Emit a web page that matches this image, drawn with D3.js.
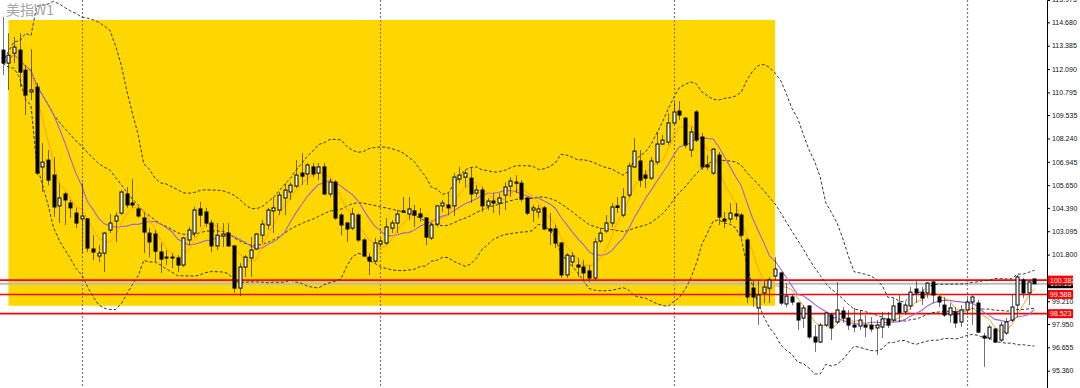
<!DOCTYPE html>
<html>
<head>
<meta charset="utf-8">
<script src="https://cdn.jsdelivr.net/npm/d3@7"></script>
<style>
  body { margin: 0; background: #fff; overflow: hidden; }
  svg { display: block; font-family: "Liberation Sans", Arial, sans-serif; }
</style>
</head>
<body>
<svg id="chart"></svg>
<script>
// weekly bars (oldest first)
const opens = [
  113.14,112.42,112.97,113.14,112.03,110.82,111.09,106.66,107.04,106.21,
  104.50,105.16,104.66,104.10,103.78,103.78,102.11,101.72,101.88,103.16,
  103.66,104.10,105.16,104.66,104.33,103.83,102.99,102.94,101.94,101.61,
  101.66,101.61,101.22,102.61,102.99,104.33,104.16,103.55,102.28,102.83,
  102.99,102.28,99.94,101.11,101.61,102.11,102.88,103.44,104.22,104.27,
  104.94,105.27,105.60,106.32,106.27,106.66,106.32,106.66,105.16,105.82,
  103.99,103.55,103.27,103.99,102.61,101.66,101.44,102.39,102.44,103.27,
  103.55,104.22,104.05,104.22,104.05,103.83,102.72,103.49,104.50,104.55,
  104.50,105.99,106.10,106.04,105.21,105.38,104.50,104.77,104.66,105.10,
  105.60,105.76,105.76,104.94,104.27,104.16,104.39,103.22,103.22,102.44,
  100.67,101.39,101.22,101.11,100.89,100.50,102.55,103.11,103.55,104.50,
  103.99,105.10,106.66,106.99,106.21,106.04,106.93,107.93,108.04,109.10,
  109.76,109.37,107.60,109.71,108.32,106.77,106.32,107.32,103.77,103.77,
  104.05,103.99,102.61,99.94,98.84,99.67,99.94,100.61,100.78,99.06,
  99.45,99.11,98.28,98.95,97.23,96.95,97.89,98.45,98.06,98.67,
  98.28,97.89,97.84,97.89,97.89,97.73,97.78,98.23,98.17,99.11,
  98.62,98.95,99.89,99.72,99.67,100.28,99.45,99.00,98.45,98.62,
  98.06,98.73,99.17,99.11,97.28,97.17,97.67,97.06,97.45,98.17,
  99.00,100.39,99.67,100.45
];
const highs = [
  114.98,114.08,113.87,114.08,112.31,113.20,111.31,107.98,107.60,107.21,
  105.76,105.27,104.83,104.39,105.76,103.83,102.88,102.33,103.05,104.05,
  104.16,105.38,105.55,105.99,104.44,104.10,103.27,103.16,102.44,102.05,
  101.88,101.77,102.77,103.33,104.44,104.72,104.39,103.72,103.55,103.55,
  103.55,102.33,101.33,101.77,102.77,102.99,103.72,104.39,104.99,105.27,
  105.76,105.82,107.04,107.43,106.88,106.88,106.88,106.88,106.04,105.93,
  104.10,103.61,104.39,104.10,102.72,101.88,102.72,102.72,103.83,103.72,
  104.27,104.99,104.99,104.55,104.39,103.88,103.55,104.55,104.83,105.21,
  106.32,106.66,106.49,106.60,105.65,105.55,104.94,105.21,105.21,105.82,
  106.10,106.21,105.93,104.99,104.55,104.55,104.50,104.10,103.44,102.50,
  101.88,101.94,101.61,101.50,101.22,102.72,103.27,103.99,104.66,104.99,
  105.49,106.88,108.26,107.60,106.49,107.21,108.60,108.43,109.65,110.26,
  110.32,109.43,108.88,109.82,108.54,107.32,107.71,107.49,104.16,104.66,
  104.66,104.10,102.72,100.39,100.39,100.39,100.55,101.66,100.83,100.22,
  99.56,99.17,99.00,99.00,97.89,98.01,98.62,98.56,100.28,98.89,
  98.73,98.84,98.73,98.45,98.34,98.17,98.62,98.62,99.39,99.56,
  99.17,100.00,100.39,100.00,100.28,100.39,99.56,99.45,99.11,98.89,
  99.00,99.39,99.56,99.28,97.45,97.89,97.73,98.06,98.28,99.56,
  100.67,100.50,100.39,100.45
];
const lows = [
  111.75,110.93,112.42,111.09,109.54,110.37,106.21,105.27,105.65,103.89,
  103.55,103.44,103.83,103.27,101.88,101.94,101.50,101.39,100.83,102.99,
  102.50,103.99,104.39,104.39,103.83,101.88,101.66,101.39,100.78,101.22,
  101.05,100.83,101.11,102.33,102.77,103.33,103.33,101.94,102.05,102.22,
  102.22,99.67,99.50,100.56,100.56,102.05,102.44,103.16,102.99,103.99,
  103.99,104.83,105.49,105.65,105.65,106.10,105.93,105.10,104.99,103.72,
  102.88,102.50,103.16,102.50,101.66,100.67,101.33,102.22,102.33,102.99,
  102.99,104.10,103.72,103.33,103.61,102.33,102.61,103.33,104.16,103.99,
  103.94,105.76,105.55,104.66,104.99,104.16,104.27,104.10,103.99,104.27,
  104.99,105.21,104.72,103.99,103.61,103.83,103.16,102.33,102.16,100.50,
  100.50,101.11,100.56,100.39,100.28,100.39,102.44,102.99,103.33,104.10,
  103.88,104.94,106.60,105.55,105.49,105.93,106.77,107.88,107.88,108.99,
  109.26,107.71,107.21,108.04,106.49,106.49,106.21,103.44,103.27,103.55,
  103.72,102.72,99.11,98.89,97.89,99.11,99.11,100.39,99.00,98.89,
  99.00,97.62,97.73,97.12,96.40,96.89,97.78,97.06,97.95,98.01,
  97.62,97.50,97.62,97.23,97.50,96.23,97.17,97.73,98.06,98.06,
  98.45,98.73,99.11,99.00,99.39,99.11,98.89,98.34,98.01,97.73,
  97.78,98.45,97.89,97.45,95.57,97.06,96.89,96.95,97.34,98.06,
  98.34,99.39,99.00,100.17
];
const closes = [
  112.42,112.86,113.31,111.92,110.65,110.93,106.32,106.93,105.93,104.44,
  104.94,104.83,104.39,103.55,103.94,102.16,101.94,101.88,102.99,103.55,
  103.94,105.27,104.55,104.55,103.94,103.05,102.50,101.99,101.55,101.66,
  101.61,101.22,102.72,103.16,104.27,103.99,103.55,102.28,102.88,102.94,
  102.28,99.94,101.11,101.66,102.05,102.94,103.49,104.27,104.39,105.10,
  105.38,105.65,106.21,106.15,106.77,106.27,106.66,105.16,105.82,103.83,
  103.44,103.22,104.05,102.61,101.72,101.44,102.44,102.55,103.33,103.55,
  104.05,104.16,104.33,103.99,103.88,102.77,103.44,104.50,104.66,104.39,
  106.10,106.21,106.32,105.16,105.38,104.50,104.77,104.66,104.94,105.55,
  105.88,105.82,104.88,104.10,104.39,104.33,103.22,103.11,102.44,100.67,
  101.77,101.72,101.11,100.78,100.50,102.50,102.99,103.55,104.44,104.41,
  104.99,106.71,107.54,105.93,106.04,106.99,107.93,108.15,109.10,109.71,
  109.54,107.88,108.60,108.15,106.66,106.66,107.65,103.88,103.66,104.10,
  103.94,102.88,99.45,99.45,99.56,100.00,100.39,101.00,99.11,99.50,
  99.17,98.17,98.84,97.23,96.95,97.89,98.56,97.73,98.73,98.28,
  97.89,97.78,98.17,97.78,97.67,97.89,98.23,97.89,98.95,98.56,
  99.00,99.72,99.67,99.39,100.22,99.56,99.17,98.45,98.84,98.01,
  98.73,99.17,99.45,97.50,97.17,97.78,96.95,97.89,98.06,98.89,
  100.56,99.67,100.28,100.18
];

// 100.505 is hidden under the price tags in the picture, so it is left out
const axisLabels = ['115.975','114.680','113.385','112.090','110.795','109.535','108.240','106.945',
  '105.650','104.390','103.095','101.800','99.210','97.950','96.655','95.360'];
const levels = [100.382, 99.588, 98.523];   // red horizontal lines
const lastPrice = 100.184;
const yearStarts = [14, 67, 119, 171];       // bar index of period separators
const zoneBars = [1, 137];                    // yellow box, first / last bar
const zonePrices = [114.81, 98.96];           // yellow box, top / bottom
const title = '美指W1';

class CandleChart {

  constructor(_config) {
    this.config = {
      parentElement: _config.parentElement,
      containerWidth: _config.containerWidth || 1080,
      containerHeight: _config.containerHeight || 388,
      axisX: 1047
    }
    this.n = Math.min(opens.length, highs.length, lows.length, closes.length);
    this.initVis();
  }

  initVis() {
    let vis = this;

    vis.xScale = d3.scaleLinear()
      .domain([0, 183])
      .range([2.8, 1034.4]);

    vis.yScale = d3.scaleLinear()
      .domain([94.40, 115.92])
      .range([vis.config.containerHeight, 0]);

    vis.svg = d3.select(vis.config.parentElement)
      .attr('width', vis.config.containerWidth)
      .attr('height', vis.config.containerHeight);

    vis.svg.append('defs').append('clipPath').attr('id', 'plot-clip')
      .append('rect')
      .attr('x', 0).attr('y', 0)
      .attr('width', vis.config.axisX)
      .attr('height', vis.config.containerHeight);

    vis.plot = vis.svg.append('g').attr('clip-path', 'url(#plot-clip)');
    vis.yAxisG = vis.svg.append('g')
      .attr('class', 'axis y-axis')
      .attr('transform', `translate(${vis.config.axisX},0)`);
    vis.tags = vis.svg.append('g');

    vis.updateVis();
  }

  updateVis() {
    let vis = this;
    let c = closes.slice(0, vis.n);

    // moving averages / bollinger (20, 2)
    const sma = (arr, p) => arr.map((_, i) => d3.mean(arr.slice(Math.max(0, i - p + 1), i + 1)));
    vis.ma5 = sma(c, 5);
    vis.ma10 = sma(c, 10);
    vis.mid = sma(c, 20);
    vis.upper = [];
    vis.lower = [];
    c.forEach((_, i) => {
      let win = c.slice(Math.max(0, i - 19), i + 1);
      let m = vis.mid[i];
      let sd = Math.sqrt(d3.mean(win, v => (v - m) * (v - m)));
      vis.upper.push(m + 2 * sd);
      vis.lower.push(m - 2 * sd);
    });

    vis.line = d3.line()
      .x((d, i) => vis.xScale(i))
      .y(d => vis.yScale(d));

    vis.renderVis();
  }

  renderVis() {
    let vis = this;
    let W = vis.config.axisX;
    let bars = d3.range(vis.n);

    // yellow box
    vis.plot.append('rect')
      .attr('x', vis.xScale(zoneBars[0]))
      .attr('y', vis.yScale(zonePrices[0]))
      .attr('width', vis.xScale(zoneBars[1]) - vis.xScale(zoneBars[0]))
      .attr('height', vis.yScale(zonePrices[1]) - vis.yScale(zonePrices[0]))
      .attr('fill', '#ffd700');

    // period separators
    vis.plot.selectAll('.sep')
      .data(yearStarts)
      .join('line')
      .attr('class', 'sep')
      .attr('x1', d => Math.round(vis.xScale(d)) + 0.5)
      .attr('x2', d => Math.round(vis.xScale(d)) + 0.5)
      .attr('y1', 0)
      .attr('y2', vis.config.containerHeight)
      .attr('stroke', '#777')
      .attr('stroke-width', 1.2)
      .attr('stroke-dasharray', '2,2');

    // price lines
    vis.plot.append('line')
      .attr('x1', 0).attr('x2', W)
      .attr('y1', vis.yScale(lastPrice)).attr('y2', vis.yScale(lastPrice))
      .attr('stroke', '#b8bcc0')
      .attr('stroke-width', 2);

    vis.plot.selectAll('.level')
      .data(levels)
      .join('line')
      .attr('class', 'level')
      .attr('x1', 0).attr('x2', W)
      .attr('y1', d => vis.yScale(d)).attr('y2', d => vis.yScale(d))
      .attr('stroke', '#ff0000')
      .attr('stroke-width', 1.6);

    // bollinger bands
    [vis.upper, vis.mid, vis.lower].forEach(band => {
      vis.plot.append('path')
        .datum(band)
        .attr('fill', 'none')
        .attr('stroke', '#222')
        .attr('stroke-width', 0.9)
        .attr('stroke-dasharray', '3,2')
        .attr('d', vis.line);
    });

    // moving averages
    vis.plot.append('path')
      .datum(vis.ma10)
      .attr('fill', 'none')
      .attr('stroke', '#a066d8')
      .attr('stroke-width', 1.1)
      .attr('d', vis.line);

    vis.plot.append('path')
      .datum(vis.ma5)
      .attr('fill', 'none')
      .attr('stroke', '#ffa020')
      .attr('stroke-width', 1)
      .attr('d', vis.line);

    // candles
    let g = vis.plot.append('g');
    g.selectAll('.wick')
      .data(bars)
      .join('line')
      .attr('class', 'wick')
      .attr('x1', i => Math.round(vis.xScale(i)) + 0.5)
      .attr('x2', i => Math.round(vis.xScale(i)) + 0.5)
      .attr('y1', i => vis.yScale(highs[i]))
      .attr('y2', i => vis.yScale(lows[i]))
      .attr('stroke', '#000')
      .attr('stroke-opacity', 0.55);

    g.selectAll('.body')
      .data(bars)
      .join('rect')
      .attr('class', 'body')
      .attr('x', i => Math.round(vis.xScale(i)) - 1)
      .attr('y', i => vis.yScale(Math.max(opens[i], closes[i])))
      .attr('width', 3)
      .attr('height', i => Math.max(0.8, Math.abs(vis.yScale(opens[i]) - vis.yScale(closes[i]))))
      .attr('fill', i => closes[i] >= opens[i] ? '#fff' : '#000')
      .attr('stroke', '#000')
      .attr('stroke-width', 1);

    // title
    vis.svg.append('text')
      .attr('x', 6)
      .attr('y', 15)
      .attr('fill', '#a6a6a6')
      .style('font-family', '"Noto Sans CJK SC", "Noto Sans", sans-serif')
      .style('font-size', '14px')
      .text(title);

    // right price axis
    vis.yAxis = d3.axisRight(vis.yScale)
      .tickValues(axisLabels.map(Number))
      .tickFormat((d, i) => axisLabels[i])
      .tickSizeOuter(0)
      .tickSize(3)
      .tickPadding(2);
    vis.yAxisG.call(vis.yAxis);
    vis.yAxisG.select('.domain').attr('stroke', '#000');
    vis.yAxisG.selectAll('text')
      .style('font-size', '7px')
      .attr('fill', '#111');

    // price tags, black one first so the red one sits on it
    let tags = [{v: lastPrice, fill: '#000'}].concat(levels.map(v => ({v: v, fill: '#ff0000'})));
    let tg = vis.tags.selectAll('.tag')
      .data(tags)
      .join('g')
      .attr('class', 'tag')
      .attr('transform', d => `translate(${W + 1},${vis.yScale(d.v)})`);
    tg.append('rect')
      .attr('x', 0).attr('y', -4.5)
      .attr('width', 25).attr('height', 9)
      .attr('fill', d => d.fill);
    tg.append('text')
      .attr('x', 2).attr('y', 2.5)
      .attr('fill', '#fff')
      .style('font-size', '7px')
      .text(d => d.v.toFixed(3));
  }
}

let chart = new CandleChart({ parentElement: '#chart' });
</script>
</body>
</html>
